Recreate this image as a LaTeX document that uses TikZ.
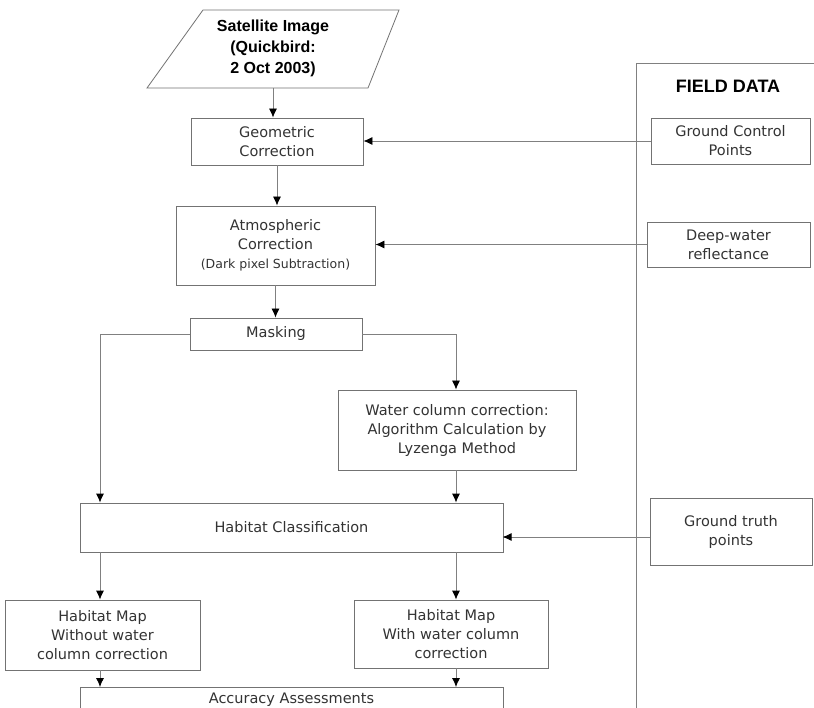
\documentclass[tikz,border=0pt]{standalone}
\usepackage{fontspec}
\setmainfont{DejaVu Sans}
\newfontfamily\boldsans{Liberation Sans}
\usetikzlibrary{arrows.meta}
\begin{document}
\begin{tikzpicture}[x=1pt,y=-1pt,
  box/.style={draw=black!55,line width=0.8pt,rectangle,align=center,inner sep=0pt,
    font=\fontsize{14.5}{19}\selectfont,text=black!80},
  arr/.style={draw=black!50,line width=0.8pt,-{Latex[length=9pt,width=8pt,black]}},
  ln/.style={draw=black!50,line width=0.8pt}]
\useasboundingbox (0,0) rectangle (814,708);
\fill[white] (0,0) rectangle (814,708);
% satellite image parallelogram
\draw[black!55,line width=0.8pt] (203,10) -- (399,10) -- (368,88) -- (147,88) -- cycle;
\node[align=center,font=\boldsans\bfseries\fontsize{16}{21}\selectfont] (sat) at (273,48)
  {Satellite Image\\(Quickbird:\\2 Oct 2003)};
\coordinate (satb) at (273,88);
% main column
\node[box,minimum width=172pt,minimum height=47pt] (geo) at (277,141.5) {Geometric\\Correction};
\node[box,minimum width=199pt,minimum height=79pt] (atm) at (275.5,245.5)
  {Atmospheric\\Correction\\{\fontsize{12.5}{19}\selectfont (Dark pixel Subtraction)}};
\node[box,minimum width=172pt,minimum height=32pt] (mask) at (276,334) {Masking};
\node[box,minimum width=238pt,minimum height=80pt] (wcc) at (457,430)
  {Water column correction:\\Algorithm Calculation by\\Lyzenga Method};
\node[box,minimum width=423pt,minimum height=49pt] (hc) at (291.5,527.5) {Habitat Classification};
\node[box,minimum width=195pt,minimum height=70pt] (hmo) at (102.5,635)
  {Habitat Map\\Without water\\column correction};
\node[box,minimum width=194pt,minimum height=68pt] (hmw) at (451,634)
  {Habitat Map\\With water column\\correction};
\node[box,minimum width=423pt,minimum height=30pt,anchor=north] (acc) at (291.5,687) {};
\node[font=\fontsize{14.5}{19}\selectfont,text=black!80] (acct) at (291.5,700) {Accuracy Assessments};
% field data panel
\coordinate (fpb) at (636,712);
\coordinate (fpt) at (636,63);
\coordinate (fpr) at (816,63);
\draw[ln] (fpb) -- (fpt) -- (fpr);
\node[font=\boldsans\bfseries\fontsize{18}{21}\selectfont] (fd) at (728,86) {FIELD DATA};
\node[box,minimum width=159pt,minimum height=46pt] (gcp) at (730.5,141) {Ground Control\\Points};
\node[box,minimum width=163pt,minimum height=45pt] (dw) at (728.5,244.5) {Deep-water\\reflectance};
\node[box,minimum width=162pt,minimum height=67pt] (gt) at (731,532) {Ground truth\\points};
% connectors
\draw[arr] (satb) -- (satb |- geo.north);
\draw[arr] (geo.south) -- (geo.south |- atm.north);
\draw[arr] (atm.south) -- (atm.south |- mask.north);
\coordinate (ml) at (100,334);
\coordinate (mr) at (456,334);
\draw[arr] (mask.west) -- (ml) -- (ml |- hc.north);
\draw[arr] (mask.east) -- (mr) -- (mr |- wcc.north);
\draw[arr] (wcc.south -| mr) -- (mr |- hc.north);
\draw[arr] (ml |- hc.south) -- (ml |- hmo.north);
\draw[arr] (mr |- hc.south) -- (mr |- hmw.north);
\draw[arr] (ml |- hmo.south) -- (ml |- acc.north);
\draw[arr] (mr |- hmw.south) -- (mr |- acc.north);
\draw[arr] (gcp.west) -- (gcp.west -| geo.east);
\draw[arr] (dw.west) -- (dw.west -| atm.east);
\draw[arr] (gt.west) ++(0,5) -- ++(-147,0);
\end{tikzpicture}
\end{document}
